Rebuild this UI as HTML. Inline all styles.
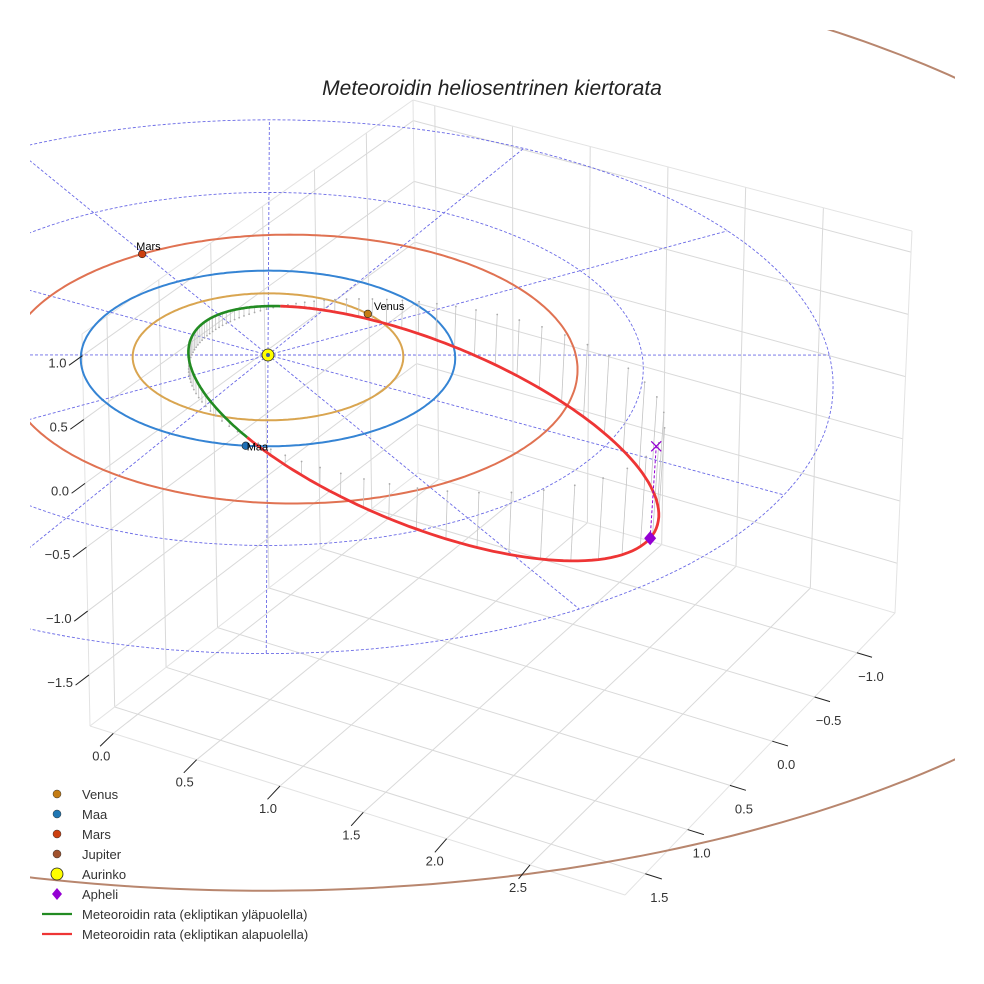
<!DOCTYPE html>
<html><head><meta charset="utf-8"><style>
html,body{margin:0;padding:0;background:#fff;}
svg{display:block;font-family:"Liberation Sans",sans-serif;}
</style></head><body>
<svg id="chart" width="984" height="984" viewBox="0 0 984 984">
<defs><clipPath id="clipData"><rect x="30" y="30" width="925" height="930"/></clipPath></defs>
<g id="box"></g>
<g id="data" clip-path="url(#clipData)"></g>
<g id="ticks"></g>
<text x="492" y="95" text-anchor="middle" font-size="21" font-style="italic" fill="#222">Meteoroidin heliosentrinen kiertorata</text>
<g id="legend"></g>
</svg>
<script>
// ---- data ----
const xTicks = [0.0, 0.5, 1.0, 1.5, 2.0, 2.5];
const yTicks = [-1.0, -0.5, 0.0, 0.5, 1.0, 1.5];
const zTicks = [-1.5, -1.0, -0.5, 0.0, 0.5, 1.0];
const boxMin = [-0.14, -1.45, -1.9];
const boxMax = [3.07, 1.74, 1.17];
const planetNames = ["Venus", "Maa", "Mars", "Jupiter"];
const planetA = [0.723, 1.0, 1.524, 5.3];
const planetE = [0.0, 0.0, 0.093, 0.072];
const planetPeriDeg = [0, 0, 180, 61];
const planetPosDeg = [-70, 67.8, 211, 150];
const planetOrbitColors = ["#d9a550", "#3584d4", "#e07252", "#b8866e"];
const planetMarkerColors = ["#c47c14", "#1f6fb4", "#cc4010", "#a0522d"];
const meteorA = 1.38;
const meteorE = 0.7;
const meteorIncDeg = 19;
const meteorNodeDeg = 68;
const meteorPeriArgDeg = 109;
const gridRadii = [1, 2, 3];
const gridAngle0 = -28.6;
const gridSpokes = 12;

// ---- projections ----
const NS = "http://www.w3.org/2000/svg";
const rad = d => d * Math.PI / 180;
function P(x, y, z) {
  const dx = 164 * x - 90 * y, dy = 42 * x + 77 * y - 126 * z;
  const depth = 0.88 * (0.48 * x + 0.877 * y) + 0.47 * z;
  const s = 1 / (1 - 0.045 * depth);
  return [268 + dx * s, 355 + dy * s];
}
const C000 = [418, 473], C100 = [895, 613], C010 = [90, 726], C110 = [625, 895];
const C001 = [413, 100], C101 = [912, 231], C011 = [82, 334], C111 = [635, 495];
function B(x, y, z) {
  const u = (x - boxMin[0]) / (boxMax[0] - boxMin[0]);
  const v = (y - boxMin[1]) / (boxMax[1] - boxMin[1]);
  const w = (z - boxMin[2]) / (boxMax[2] - boxMin[2]);
  const out = [0, 0];
  for (let k = 0; k < 2; k++) {
    const a = C000[k] * (1 - u) + C100[k] * u, b = C010[k] * (1 - u) + C110[k] * u;
    const c = C001[k] * (1 - u) + C101[k] * u, d = C011[k] * (1 - u) + C111[k] * u;
    const lo = a * (1 - v) + b * v, hi = c * (1 - v) + d * v;
    out[k] = lo * (1 - w) + hi * w;
  }
  return out;
}
function mk(tag, attrs, parent) { const e = document.createElementNS(NS, tag); for (const k in attrs) e.setAttribute(k, attrs[k]); parent.appendChild(e); return e; }
function line(a, b, attrs, parent) { return mk("line", Object.assign({ x1: a[0], y1: a[1], x2: b[0], y2: b[1] }, attrs), parent); }
function poly(pts, attrs, parent) { return mk("polyline", Object.assign({ points: pts.map(p => p[0].toFixed(1) + "," + p[1].toFixed(1)).join(" "), fill: "none" }, attrs), parent); }

const box = document.getElementById("box");
const data = document.getElementById("data");
const ticks = document.getElementById("ticks");
const legend = document.getElementById("legend");
const [x0, y0, z0] = boxMin, [x1, y1, z1] = boxMax;
const gcol = { stroke: "#d9d9d9", "stroke-width": 1 };

xTicks.forEach(v => { const l = line(B(v, y0, z0), B(v, y1, z0), gcol, box);

 });
yTicks.forEach(v => { const l = line(B(x0, v, z0), B(x1, v, z0), gcol, box);

 });
yTicks.forEach(v => { const l = line(B(x0, v, z0), B(x0, v, z1), gcol, box);

 });
zTicks.forEach(v => { const l = line(B(x0, y0, v), B(x0, y1, v), gcol, box);

 });
xTicks.forEach(v => { const l = line(B(v, y0, z0), B(v, y0, z1), gcol, box);

 });
zTicks.forEach(v => { const l = line(B(x0, y0, v), B(x1, y0, v), gcol, box);

 });
[[B(x0, y1, z0), B(x1, y1, z0)], [B(x1, y0, z0), B(x1, y1, z0)], [B(x0, y1, z0), B(x0, y1, z1)],
 [B(x0, y0, z0), B(x0, y0, z1)], [B(x1, y0, z0), B(x1, y0, z1)], [B(x0, y0, z1), B(x1, y0, z1)], [B(x0, y0, z1), B(x0, y1, z1)],
 [B(x0, y0, z0), B(x1, y0, z0)], [B(x0, y0, z0), B(x0, y1, z0)]].forEach(s => {
  const l = line(s[0], s[1], { stroke: "#e3e3e3", "stroke-width": 1 }, box);
  
  
});

const tstyle = { stroke: "#222", "stroke-width": 1 };
xTicks.forEach(v => {
  const a = B(v, y1, z0), b = B(v, y1 + 0.13, z0 - 0.02);
  const t = line(a, b, tstyle, ticks);
  
  
  const tx = mk("text", { x: a[0] - 12, y: a[1] + 27, "text-anchor": "middle", "font-size": 13, fill: "#333" }, ticks);
  tx.textContent = v.toFixed(1).replace("-", "\u2212");
  
  
});
yTicks.forEach(v => {
  const a = B(x1, v, z0), b = B(x1 + 0.1, v, z0);
  const t = line(a, b, tstyle, ticks);
  
  
  const tx = mk("text", { x: a[0] + 14, y: a[1] + 28, "text-anchor": "middle", "font-size": 13, fill: "#333" }, ticks);
  tx.textContent = v.toFixed(1).replace("-", "\u2212");
  
  
});
zTicks.forEach(v => {
  const a = B(x0, y1, v), b = B(x0, y1 + 0.13, v);
  const t = line(a, b, tstyle, ticks);
  
  
  const tx = mk("text", { x: a[0] - 16, y: a[1] + 12, "text-anchor": "end", "font-size": 13, fill: "#333" }, ticks);
  tx.textContent = v.toFixed(1).replace("-", "\u2212");
  
  
});

// polar dashed grid
const dstyle = { stroke: "#6a6ae6", "stroke-width": 0.9, "stroke-dasharray": "3,2", fill: "none" };
gridRadii.forEach(r => {
  const pts = [];
  for (let k = 0; k <= 360; k += 2) pts.push(P(r * Math.cos(rad(k)), r * Math.sin(rad(k)), 0));
  const c = poly(pts, dstyle, data);
  
  
});
const rMax = gridRadii[gridRadii.length - 1];
for (let k = 0; k < gridSpokes; k++) {
  const an = rad(gridAngle0 + k * 360 / gridSpokes);
  const s = line(P(0, 0, 0), P(rMax * Math.cos(an), rMax * Math.sin(an), 0), dstyle, data);
  
  
}

// planet orbits
function planetXY(i, thetaDeg) {
  const a = planetA[i], e = planetE[i], w = planetPeriDeg[i];
  const nu = rad(thetaDeg - w);
  const r = a * (1 - e * e) / (1 + e * Math.cos(nu));
  return [r * Math.cos(rad(thetaDeg)), r * Math.sin(rad(thetaDeg))];
}
planetNames.forEach((name, i) => {
  const pts = [];
  for (let k = 0; k <= 360; k += 1) { const q = planetXY(i, k); pts.push(P(q[0], q[1], 0)); }
  const o = poly(pts, { stroke: planetOrbitColors[i], "stroke-width": 2 }, data);
  
  
});

// meteoroid orbit
const mi = rad(meteorIncDeg), mO = rad(meteorNodeDeg), mw = meteorPeriArgDeg;
function meteor(uDeg) {
  const nu = rad(uDeg - mw);
  const r = meteorA * (1 - meteorE * meteorE) / (1 + meteorE * Math.cos(nu));
  const u = rad(uDeg);
  return [r * (Math.cos(mO) * Math.cos(u) - Math.sin(mO) * Math.sin(u) * Math.cos(mi)),
          r * (Math.sin(mO) * Math.cos(u) + Math.cos(mO) * Math.sin(u) * Math.cos(mi)),
          r * Math.sin(u) * Math.sin(mi)];
}
for (let u = 4; u < 360; u += 4) {
  const q = meteor(u);
  const top = P(q[0], q[1], 0);
  const s = line(P(q[0], q[1], q[2]), top, { stroke: "#c4c4c4", "stroke-width": 0.8 }, data);
  
  
  const d = mk("circle", { cx: top[0], cy: top[1], r: 0.9, fill: "#aaa" }, data);
  
  
}
const greenPts = [], redPts = [];
for (let u = 0; u <= 180; u += 1) { const q = meteor(u); greenPts.push(P(q[0], q[1], q[2])); }
for (let u = 180; u <= 360; u += 1) { const q = meteor(u); redPts.push(P(q[0], q[1], q[2])); }
const gL = poly(greenPts, { stroke: "#228b22", "stroke-width": 2.6 }, data);


const rL = poly(redPts, { stroke: "#ee3535", "stroke-width": 2.8 }, data);



// aphelion
const aph = meteor(mw + 180);
const aP = P(aph[0], aph[1], aph[2]), aG = P(aph[0], aph[1], 0);
const al = line(aP, aG, { stroke: "#9400d3", "stroke-width": 1, "stroke-dasharray": "3,2" }, data);


const ax = mk("path", { d: `M${aG[0] - 5},${aG[1] - 5}L${aG[0] + 5},${aG[1] + 5}M${aG[0] - 5},${aG[1] + 5}L${aG[0] + 5},${aG[1] - 5}`, stroke: "#9400d3", "stroke-width": 1.3 }, data);


const ad = mk("path", { d: `M${aP[0]},${aP[1] - 7}L${aP[0] + 6},${aP[1]}L${aP[0]},${aP[1] + 7}L${aP[0] - 6},${aP[1]}Z`, fill: "#9400d3" }, data);



// planets
planetNames.forEach((name, i) => {
  const q = planetXY(i, planetPosDeg[i]);
  const p = P(q[0], q[1], 0);
  const c = mk("circle", { cx: p[0], cy: p[1], r: 3.8, fill: planetMarkerColors[i], stroke: "#222", "stroke-width": 0.6 }, data);
  
  
  const t = mk("text", { x: p[0] + (i === 1 ? 1 : i === 2 ? -6 : 6), y: p[1] + (i === 1 ? 5 : -4), "font-size": 11, fill: "#000" }, data);
  t.textContent = name;
  
  
});
const sp = P(0, 0, 0);
const sun = mk("circle", { cx: sp[0], cy: sp[1], r: 6, fill: "#ffff00", stroke: "#222", "stroke-width": 0.8 }, data);


const sc = mk("circle", { cx: sp[0], cy: sp[1], r: 2, fill: "#4060a0" }, data);



// legend
const legLabels = ["Venus", "Maa", "Mars", "Jupiter", "Aurinko", "Apheli", "Meteoroidin rata (ekliptikan yläpuolella)", "Meteoroidin rata (ekliptikan alapuolella)"];
const legKinds = ["dot", "dot", "dot", "dot", "sun", "diamond", "line", "line"];
const legColors = ["#c47c14", "#1f77b4", "#cc4010", "#a0522d", "#ffff00", "#9400d3", "#228b22", "#ee3535"];
legLabels.forEach((lab, k) => {
  const y = 794 + k * 20;
  const g = mk("g", {}, legend);
  
  
  const kind = legKinds[k];
  if (kind === "dot") mk("circle", { cx: 57, cy: y, r: 4, fill: legColors[k], stroke: "#333", "stroke-width": 0.5 }, g);
  else if (kind === "sun") mk("circle", { cx: 57, cy: y, r: 6, fill: legColors[k], stroke: "#222", "stroke-width": 0.8 }, g);
  else if (kind === "diamond") mk("path", { d: `M57,${y - 6}L62,${y}L57,${y + 6}L52,${y}Z`, fill: legColors[k] }, g);
  else mk("line", { x1: 42, y1: y, x2: 72, y2: y, stroke: legColors[k], "stroke-width": 2.2 }, g);
  const t = mk("text", { x: 82, y: y + 5, "font-size": 13, fill: "#333" }, g);
  t.textContent = lab;
});
</script>
</body></html>
